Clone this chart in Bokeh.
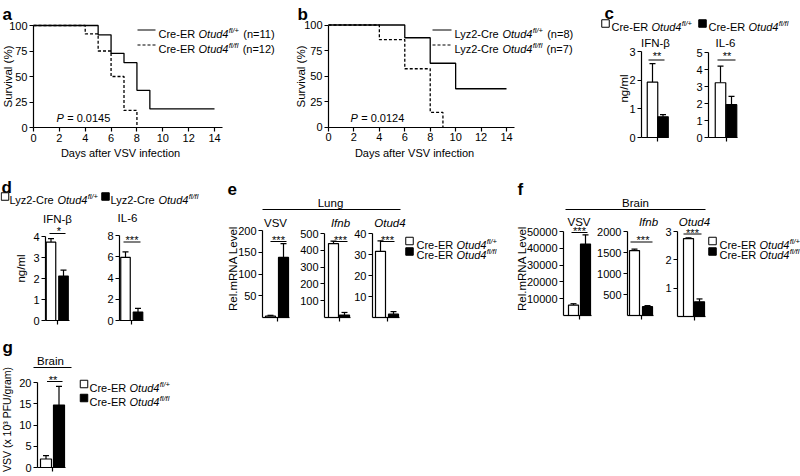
import math
from bokeh.plotting import figure
from bokeh.models import (Range1d, LinearAxis, FixedTicker, Whisker, TeeHead,
                          ColumnDataSource, CustomJSTickFormatter)
from bokeh.core.properties import value
from bokeh.embed import file_html
from bokeh.resources import INLINE

FONT = "Liberation Sans"

# ------------------------------------------------------------------ data
a_het_days = [0, 5, 6, 7, 8, 9, 14]
a_het_surv = [100, 90.9, 72.7, 63.6, 36.4, 18.2, 18.2]
a_ko_days = [0, 4, 5, 6, 7, 8]
a_ko_surv = [100, 91.7, 75.0, 50.0, 16.7, 0]
b_het_days = [0, 6, 8, 10, 14]
b_het_surv = [100, 87.5, 62.5, 37.5, 37.5]
b_ko_days = [0, 4, 6, 8, 9]
b_ko_surv = [100, 85.7, 57.1, 14.3, 0]
surv_x_ticks = [0, 2, 4, 6, 8, 10, 12, 14]
surv_y_ticks = [0, 25, 50, 75, 100]
a_pvalue = "0.0145"
b_pvalue = "0.0124"
a_counts = ["(n=11)", "(n=12)"]
b_counts = ["(n=8)", "(n=7)"]

cd_titles = ["IFN-β", "IL-6"]
c_het = [1.93, 3.22]
c_het_err = [2.58, 4.2]
c_ko = [0.72, 1.93]
c_ko_err = [0.8, 2.42]
c_ticks = [[0, 1, 2, 3], [0, 1, 2, 3, 4, 5]]
c_sig = ["**", "**"]

d_het = [3.73, 5.95]
d_het_err = [3.9, 6.45]
d_ko = [2.12, 0.8]
d_ko_err = [2.4, 1.15]
d_ticks = [[0, 1, 2, 3, 4], [0, 2, 4, 6, 8]]
d_sig = ["*", "***"]

ef_titles = ["VSV", "Ifnb", "Otud4"]
e_het = [3, 440, 31.5]
e_het_err = [5, 455, 36.5]
e_ko = [138, 15, 1.6]
e_ko_err = [170, 30, 2.8]
e_ticks = [[50, 100, 150, 200], [100, 200, 300, 400, 500], [10, 20, 30, 40]]
e_sig = ["***", "***", "***"]

f_het = [6200, 1545, 2.75]
f_het_err = [7000, 1580, 2.78]
f_ko = [42500, 210, 0.52]
f_ko_err = [48000, 235, 0.62]
f_ticks = [[10000, 20000, 30000, 40000, 50000], [500, 1000, 1500, 2000], [1, 2, 3]]
f_sig = ["***", "***", "***"]

g_het = [2.0]
g_het_err = [2.8]
g_ko = [14.7]
g_ko_err = [19.1]
g_ticks = [0, 5, 10, 15, 20]
g_sig = ["**"]

# ------------------------------------------------------------------ layout (picture pixels)
W, H, M = 800, 476, 0

A_GEO = dict(x0=33, x14=214, y0=127, y100=25)
B_GEO = dict(x0=328, x14=506, y0=126.5, y100=24.5)

C_GEO = [dict(ax=641, wc=652, bc=662.5, y0=137, ytop=51, xend=668, bw=10.5,
              title=(655, 42.5), star=(656.5, 53.5), sline=(648, 664, 59.5)),
         dict(ax=708, wc=720, bc=731, y0=137, ytop=52, xend=737, bw=10.5,
              title=(725, 42.5), star=(726.5, 53.5), sline=(717, 735, 59.5))]
D_GEO = [dict(ax=45, wc=50.5, bc=63, y0=320, ytop=236, xend=69, bw=9.5,
              title=(57, 218), star=(58.5, 228.5), sline=(49, 65, 233)),
         dict(ax=119, wc=125, bc=137.5, y0=320, ytop=235, xend=143, bw=9.5,
              title=(127, 217.5), star=(131.5, 237), sline=(123, 140, 241.5))]
E_GEO = [dict(ax=262, wc=270, bc=283, y0=317, ytop=230, xend=289, bw=10,
              title=(275, 222), star=(278, 237), sline=(270, 286, 241)),
         dict(ax=324, wc=333, bc=344, y0=317, ytop=233, xend=350, bw=10,
              title=(340, 222), star=(340, 237), sline=(332, 347, 241)),
         dict(ax=372, wc=380, bc=393, y0=317, ytop=233, xend=399, bw=10,
              title=(389.5, 222), star=(387, 237), sline=(379.5, 394, 241))]
F_GEO = [dict(ax=563, wc=573, bc=585, y0=315, ytop=231, xend=591, bw=10,
              title=(578.5, 221.5), star=(579, 228.5), sline=(571, 587, 232)),
         dict(ax=627, wc=634, bc=647, y0=315, ytop=231, xend=653, bw=10,
              title=(648, 221.5), star=(642.5, 237.5), sline=(630, 652, 241.5)),
         dict(ax=677, wc=688, bc=699, y0=316, ytop=231, xend=705, bw=10,
              title=(694, 221.5), star=(692, 230), sline=(683, 701, 233.5))]
G_GEO = dict(ax=37, wc=45.5, bc=58.5, y0=467, ytop=382, xend=65, bw=11,
             star=(52.5, 377), sline=(46.5, 62, 381))

p = figure(width=W, height=H, output_backend="svg", toolbar_location=None,
           x_range=Range1d(M, M + W), y_range=Range1d(M + H, M),
           x_axis_type=None, y_axis_type=None, min_border=0,
           outline_line_color=None, title=None)
p.background_fill_color = "white"
p.border_fill_color = "white"

AX = dict(axis_line_color="black", axis_line_width=1.2,
          major_tick_line_color="black", major_tick_line_width=1.2,
          major_tick_out=4, major_tick_in=0, minor_tick_line_color=None,
          major_label_text_font=FONT, major_label_text_font_size="11px",
          major_label_standoff=2, major_label_text_color="black")

ARIAL = {' ': 278, '(': 333, ')': 333, '+': 584, '-': 333, '/': 278, '=': 584, '.': 278,
         'C': 722, 'E': 667, 'R': 722, 'O': 778, 'L': 556, 'P': 667,
         'r': 333, 'e': 556, 't': 278, 'u': 556, 'd': 556, 'f': 278, 'l': 222,
         'n': 556, 'y': 500, 'z': 500}


def tw(s, size):
    return sum(ARIAL.get(ch, 556) for ch in s) * size / 1000.0


def xmap(v0, X0, v1, X1):
    k = (X1 - X0) / (v1 - v0)
    start = v0 - (X0 - M) / k
    return Range1d(start, start + W / k)


def ymap(v0, Y0, v1, Y1):
    k = (Y0 - Y1) / (v1 - v0)
    start = v0 - (M + H - Y0) / k
    return Range1d(start, start + H / k)


def txt(x, y, s, size=11, align="center", baseline="middle", style="normal", angle=0.0):
    p.text(x=[x], y=[y], text=[s], text_font=value(FONT), text_font_size=value(f"{size}px"),
           text_align=align, text_baseline=baseline, text_font_style=style,
           angle=angle, text_color="black")


def run(x, y, parts, size=11):
    """Left-aligned run of differently styled pieces (italic gene, superscript genotype)."""
    base = y + 0.36 * size
    for s, kind in parts:
        if kind == "sup":
            fs = round(size * 0.68, 1)
            yy = base - size * 0.36
            style = "italic"
        else:
            fs = size
            yy = base
            style = "italic" if kind == "i" else "normal"
        lead = len(s) - len(s.lstrip(" "))
        x += tw(" " * lead, fs)
        body = s.strip(" ")
        txt(x, yy, body, size=fs, align="left", baseline="alphabetic", style=style)
        x += tw(body, fs) + (1.2 if kind == "sup" else 0.3)
        trail = len(s) - len(s.rstrip(" "))
        x += tw(" " * trail, fs)


def hline(x0, x1, y, dash="solid"):
    p.segment(x0=[x0], y0=[y], x1=[x1], y1=[y], line_color="black", line_width=1.2, line_dash=dash)


def label(x, y, s):
    txt(x, y, s, size=17, align="left", baseline="alphabetic", style="bold")


def survival(key, g, curves):
    xr, yr = key + "x", key + "y"
    p.extra_x_ranges[xr] = xmap(0, g["x0"], 14, g["x14"])
    p.extra_y_ranges[yr] = ymap(0, g["y0"], 100, g["y100"])
    for days, surv, dash in curves:
        p.step(x=days, y=surv, mode="after", line_color="black", line_width=1.3,
               line_dash=dash, x_range_name=xr, y_range_name=yr)
    xa = LinearAxis(x_range_name=xr, y_range_name=yr, fixed_location=0, bounds=(0, 14.6),
                    ticker=FixedTicker(ticks=surv_x_ticks), **AX)
    p.add_layout(xa, "below")
    ya = LinearAxis(x_range_name=xr, y_range_name=yr, fixed_location=0, bounds=(0, 100),
                    ticker=FixedTicker(ticks=surv_y_ticks), **AX)
    p.add_layout(ya, "left")


def bar_panel(key, g, het, het_err, ko, ko_err, ticks, title=None, title_style="normal", sig="**"):
    xr, yr = key + "x", key + "y"
    sp = g["bc"] - g["wc"]
    p.extra_x_ranges[xr] = xmap(0, g["wc"], 1, g["bc"])
    p.extra_y_ranges[yr] = ymap(0, g["y0"], ticks[-1], g["ytop"])
    src = ColumnDataSource(dict(x=[0, 1], top=[het, ko], err=[het_err, ko_err],
                                color=["white", "black"]))
    p.add_layout(Whisker(source=src, base="x", lower="top", upper="err", dimension="height",
                         line_color="black", line_width=1.2,
                         upper_head=TeeHead(size=6, line_color="black", line_width=1.2),
                         lower_head=None, x_range_name=xr, y_range_name=yr))
    p.vbar(x="x", top="top", bottom=0, width=g["bw"] / sp, fill_color="color",
           line_color="black", line_width=1.2, source=src, x_range_name=xr, y_range_name=yr)
    ya = LinearAxis(y_range_name=yr, fixed_location=g["ax"], bounds=(0, ticks[-1]),
                    ticker=FixedTicker(ticks=ticks), **AX)
    p.add_layout(ya, "left")
    xa = LinearAxis(x_range_name=xr, y_range_name=yr, fixed_location=0,
                    bounds=((g["ax"] - g["wc"]) / sp, (g["xend"] - g["wc"]) / sp),
                    ticker=FixedTicker(ticks=[0.5]),
                    formatter=CustomJSTickFormatter(code="return ''"), **AX)
    p.add_layout(xa, "below")
    if title is not None:
        txt(g["title"][0], g["title"][1], title, size=11.5, style=title_style)
    sx, sy = g["star"]
    txt(sx, sy + 2, sig, size=11, baseline="alphabetic")
    x0, x1, ly = g["sline"]
    hline(x0, x1, ly)


def square(x, y, fill):
    p.scatter(x=[x], y=[y], marker="square", size=7.5, fill_color=fill,
              line_color="black", line_width=1)


# ------------------------------------------------------------------ panel a
label(2, 14, "a")
survival("a", A_GEO, [(a_het_days, a_het_surv, "solid"), (a_ko_days, a_ko_surv, "3 2")])
txt(7, 76, "Survival (%)", size=11.5, angle=math.pi / 2)
txt(120, 152, "Days after VSV infection", size=11)
run(56, 114, [("P", "i"), (" = " + a_pvalue, "n")], size=11)
hline(137, 155, 29.5)
run(158, 29.5, [("Cre-ER ", "n"), ("Otud4", "i"), ("fl/+", "sup"), (" " + a_counts[0], "n")])
hline(137, 155, 44.5, dash="3 2")
run(158, 44.5, [("Cre-ER ", "n"), ("Otud4", "i"), ("fl/fl", "sup"), (" " + a_counts[1], "n")])

# ------------------------------------------------------------------ panel b
label(297, 14, "b")
survival("b", B_GEO, [(b_het_days, b_het_surv, "solid"), (b_ko_days, b_ko_surv, "3 2")])
txt(300, 76, "Survival (%)", size=11.5, angle=math.pi / 2)
txt(414, 152, "Days after VSV infection", size=11)
run(350, 113.5, [("P", "i"), (" = " + b_pvalue, "n")], size=11)
hline(432, 451, 29.5)
run(454, 29.5, [("Lyz2-Cre ", "n"), ("Otud4", "i"), ("fl/+", "sup"), (" " + b_counts[0], "n")])
hline(432, 451, 44.5, dash="3 2")
run(454, 44.5, [("Lyz2-Cre ", "n"), ("Otud4", "i"), ("fl/fl", "sup"), (" " + b_counts[1], "n")])

# ------------------------------------------------------------------ panel c
label(604, 13, "c")
square(605, 23, "white")
run(611, 23, [("Cre-ER ", "n"), ("Otud4", "i"), ("fl/+", "sup")])
square(702, 23, "black")
run(708, 23, [("Cre-ER ", "n"), ("Otud4", "i"), ("fl/fl", "sup")])
for i in range(2):
    bar_panel(f"c{i}", C_GEO[i], c_het[i], c_het_err[i], c_ko[i], c_ko_err[i], c_ticks[i],
              title=cd_titles[i], sig=c_sig[i])
txt(623, 88, "ng/ml", size=11.5, angle=math.pi / 2)

# ------------------------------------------------------------------ panel d
label(1, 187, "d")
square(4.5, 196, "white")
run(9, 196, [("Lyz2-Cre ", "n"), ("Otud4", "i"), ("fl/+", "sup")])
square(105, 196, "black")
run(110, 196, [("Lyz2-Cre ", "n"), ("Otud4", "i"), ("fl/fl", "sup")])
for i in range(2):
    bar_panel(f"d{i}", D_GEO[i], d_het[i], d_het_err[i], d_ko[i], d_ko_err[i], d_ticks[i],
              title=cd_titles[i], sig=d_sig[i])
txt(20, 268, "ng/ml", size=11.5, angle=math.pi / 2)

# ------------------------------------------------------------------ panel e
label(227, 188, "e")
txt(330, 202, "Lung", size=11.5)
hline(262, 400, 209)
for i in range(3):
    bar_panel(f"e{i}", E_GEO[i], e_het[i], e_het_err[i], e_ko[i], e_ko_err[i], e_ticks[i],
              title=ef_titles[i], title_style="normal" if i == 0 else "italic", sig=e_sig[i])
txt(232, 268, "Rel.mRNA Level", size=11.5, angle=math.pi / 2)
square(409, 240.5, "white")
run(416, 240.5, [("Cre-ER ", "n"), ("Otud4", "i"), ("fl/+", "sup")])
square(409, 251, "black")
run(416, 251, [("Cre-ER ", "n"), ("Otud4", "i"), ("fl/fl", "sup")])

# ------------------------------------------------------------------ panel f
label(517, 189, "f")
txt(635, 202, "Brain", size=11.5)
hline(565, 705, 209)
for i in range(3):
    bar_panel(f"f{i}", F_GEO[i], f_het[i], f_het_err[i], f_ko[i], f_ko_err[i], f_ticks[i],
              title=ef_titles[i], title_style="normal" if i == 0 else "italic", sig=f_sig[i])
txt(521, 268, "Rel.mRNA Level", size=11.5, angle=math.pi / 2)
square(712, 240.5, "white")
run(719, 240.5, [("Cre-ER ", "n"), ("Otud4", "i"), ("fl/+", "sup")])
square(712, 251, "black")
run(719, 251, [("Cre-ER ", "n"), ("Otud4", "i"), ("fl/fl", "sup")])

# ------------------------------------------------------------------ panel g
label(2, 347, "g")
txt(50, 360, "Brain", size=11.5)
hline(33, 71, 367)
bar_panel("g", G_GEO, g_het[0], g_het_err[0], g_ko[0], g_ko_err[0], g_ticks, sig=g_sig[0])
txt(6, 419, "VSV (x 10³ PFU/gram)", size=10.5, angle=math.pi / 2)
square(83.5, 383.5, "white")
run(89, 383.5, [("Cre-ER ", "n"), ("Otud4", "i"), ("fl/+", "sup")])
square(83.5, 397.5, "black")
run(89, 397.5, [("Cre-ER ", "n"), ("Otud4", "i"), ("fl/fl", "sup")])

open("out.html", "w").write(file_html(p, INLINE))
